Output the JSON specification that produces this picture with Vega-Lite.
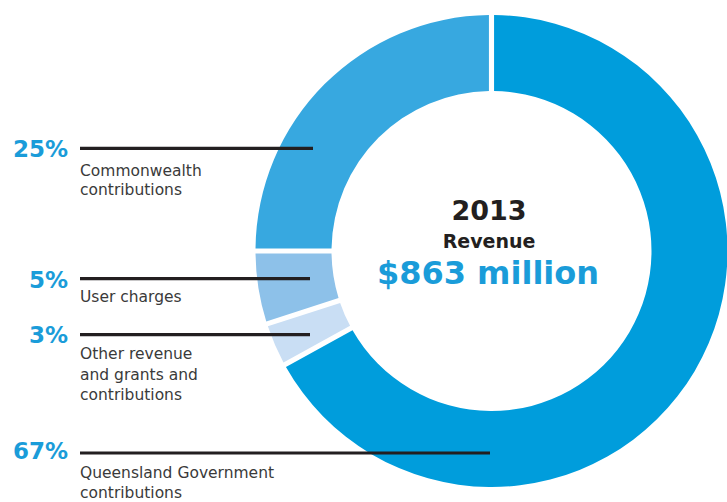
{
  "$schema": "https://vega.github.io/schema/vega-lite/v6.json",
  "autosize": "none",
  "width": 471,
  "height": 472,
  "padding": {"left": 256, "top": 15, "right": 0, "bottom": 15},
  "background": "white",
  "config": {"view": {"stroke": null}},
  "data": {
    "values": [
      {"category": "Queensland Government contributions", "rank": 1, "value": 67, "pct": "67%", "label": "Queensland Government\ncontributions"},
      {"category": "Other revenue and grants and contributions", "rank": 2, "value": 3, "pct": "3%", "label": "Other revenue\nand grants and\ncontributions"},
      {"category": "User charges", "rank": 3, "value": 5, "pct": "5%", "label": "User charges"},
      {"category": "Commonwealth contributions", "rank": 4, "value": 25, "pct": "25%", "label": "Commonwealth\ncontributions"}
    ]
  },
  "layer": [
    {
      "mark": {"type": "arc", "innerRadius": 160, "outerRadius": 236, "padAngle": 0.018},
      "encoding": {
        "theta": {"field": "value", "type": "quantitative", "stack": true},
        "order": {"field": "rank", "type": "quantitative"},
        "color": {
          "field": "category",
          "type": "nominal",
          "scale": {
            "domain": ["Queensland Government contributions", "Other revenue and grants and contributions", "User charges", "Commonwealth contributions"],
            "range": ["#009ddc", "#c9def4", "#8dc1e9", "#37a8e0"]
          },
          "legend": null
        }
      }
    },
    {
      "transform": [{"filter": "datum.rank == 4"}],
      "layer": [
        {"mark": {"type": "rule", "stroke": "#231f20", "strokeWidth": 3.2}, "encoding": {"x": {"value": -176}, "x2": {"value": 57}, "y": {"value": 133.3}}},
        {"mark": {"type": "text", "align": "right", "baseline": "alphabetic", "x": -188, "y": 141.5, "font": "DejaVu Sans", "fontWeight": "bold", "fontSize": 23, "color": "#1a9cd9"}, "encoding": {"text": {"field": "pct", "type": "nominal"}}},
        {"mark": {"type": "text", "align": "left", "baseline": "alphabetic", "x": -176, "y": 161, "font": "DejaVu Sans", "fontSize": 15.5, "lineHeight": 19, "lineBreak": "\n", "color": "#3a3a3a"}, "encoding": {"text": {"field": "label", "type": "nominal"}}}
      ]
    },
    {
      "transform": [{"filter": "datum.rank == 3"}],
      "layer": [
        {"mark": {"type": "rule", "stroke": "#231f20", "strokeWidth": 3.2}, "encoding": {"x": {"value": -176}, "x2": {"value": 54}, "y": {"value": 263.7}}},
        {"mark": {"type": "text", "align": "right", "baseline": "alphabetic", "x": -188, "y": 272.5, "font": "DejaVu Sans", "fontWeight": "bold", "fontSize": 23, "color": "#1a9cd9"}, "encoding": {"text": {"field": "pct", "type": "nominal"}}},
        {"mark": {"type": "text", "align": "left", "baseline": "alphabetic", "x": -176, "y": 286.7, "font": "DejaVu Sans", "fontSize": 15.5, "lineHeight": 20, "lineBreak": "\n", "color": "#3a3a3a"}, "encoding": {"text": {"field": "label", "type": "nominal"}}}
      ]
    },
    {
      "transform": [{"filter": "datum.rank == 2"}],
      "layer": [
        {"mark": {"type": "rule", "stroke": "#231f20", "strokeWidth": 3.2}, "encoding": {"x": {"value": -176}, "x2": {"value": 54}, "y": {"value": 319.7}}},
        {"mark": {"type": "text", "align": "right", "baseline": "alphabetic", "x": -188, "y": 328, "font": "DejaVu Sans", "fontWeight": "bold", "fontSize": 23, "color": "#1a9cd9"}, "encoding": {"text": {"field": "pct", "type": "nominal"}}},
        {"mark": {"type": "text", "align": "left", "baseline": "alphabetic", "x": -176, "y": 344.3, "font": "DejaVu Sans", "fontSize": 15.5, "lineHeight": 20.5, "lineBreak": "\n", "color": "#3a3a3a"}, "encoding": {"text": {"field": "label", "type": "nominal"}}}
      ]
    },
    {
      "transform": [{"filter": "datum.rank == 1"}],
      "layer": [
        {"mark": {"type": "rule", "stroke": "#231f20", "strokeWidth": 3.2}, "encoding": {"x": {"value": -176}, "x2": {"value": 234}, "y": {"value": 438}}},
        {"mark": {"type": "text", "align": "right", "baseline": "alphabetic", "x": -188, "y": 444, "font": "DejaVu Sans", "fontWeight": "bold", "fontSize": 23, "color": "#1a9cd9"}, "encoding": {"text": {"field": "pct", "type": "nominal"}}},
        {"mark": {"type": "text", "align": "left", "baseline": "alphabetic", "x": -176, "y": 463, "font": "DejaVu Sans", "fontSize": 15.5, "lineHeight": 20, "lineBreak": "\n", "color": "#3a3a3a"}, "encoding": {"text": {"field": "label", "type": "nominal"}}}
      ]
    },
    {
      "data": {"values": [{"year": "2013", "measure": "Revenue", "total": "$863 million"}]},
      "layer": [
        {"mark": {"type": "text", "align": "center", "baseline": "alphabetic", "x": 233, "y": 205, "font": "DejaVu Sans", "fontWeight": "bold", "fontSize": 27, "color": "#231f20"}, "encoding": {"text": {"field": "year", "type": "nominal"}}},
        {"mark": {"type": "text", "align": "center", "baseline": "alphabetic", "x": 233, "y": 233, "font": "DejaVu Sans", "fontWeight": "bold", "fontSize": 19, "color": "#231f20"}, "encoding": {"text": {"field": "measure", "type": "nominal"}}},
        {"mark": {"type": "text", "align": "center", "baseline": "alphabetic", "x": 232, "y": 269, "font": "DejaVu Sans", "fontWeight": "bold", "fontSize": 32, "color": "#1a9cd9"}, "encoding": {"text": {"field": "total", "type": "nominal"}}}
      ]
    }
  ]
}
